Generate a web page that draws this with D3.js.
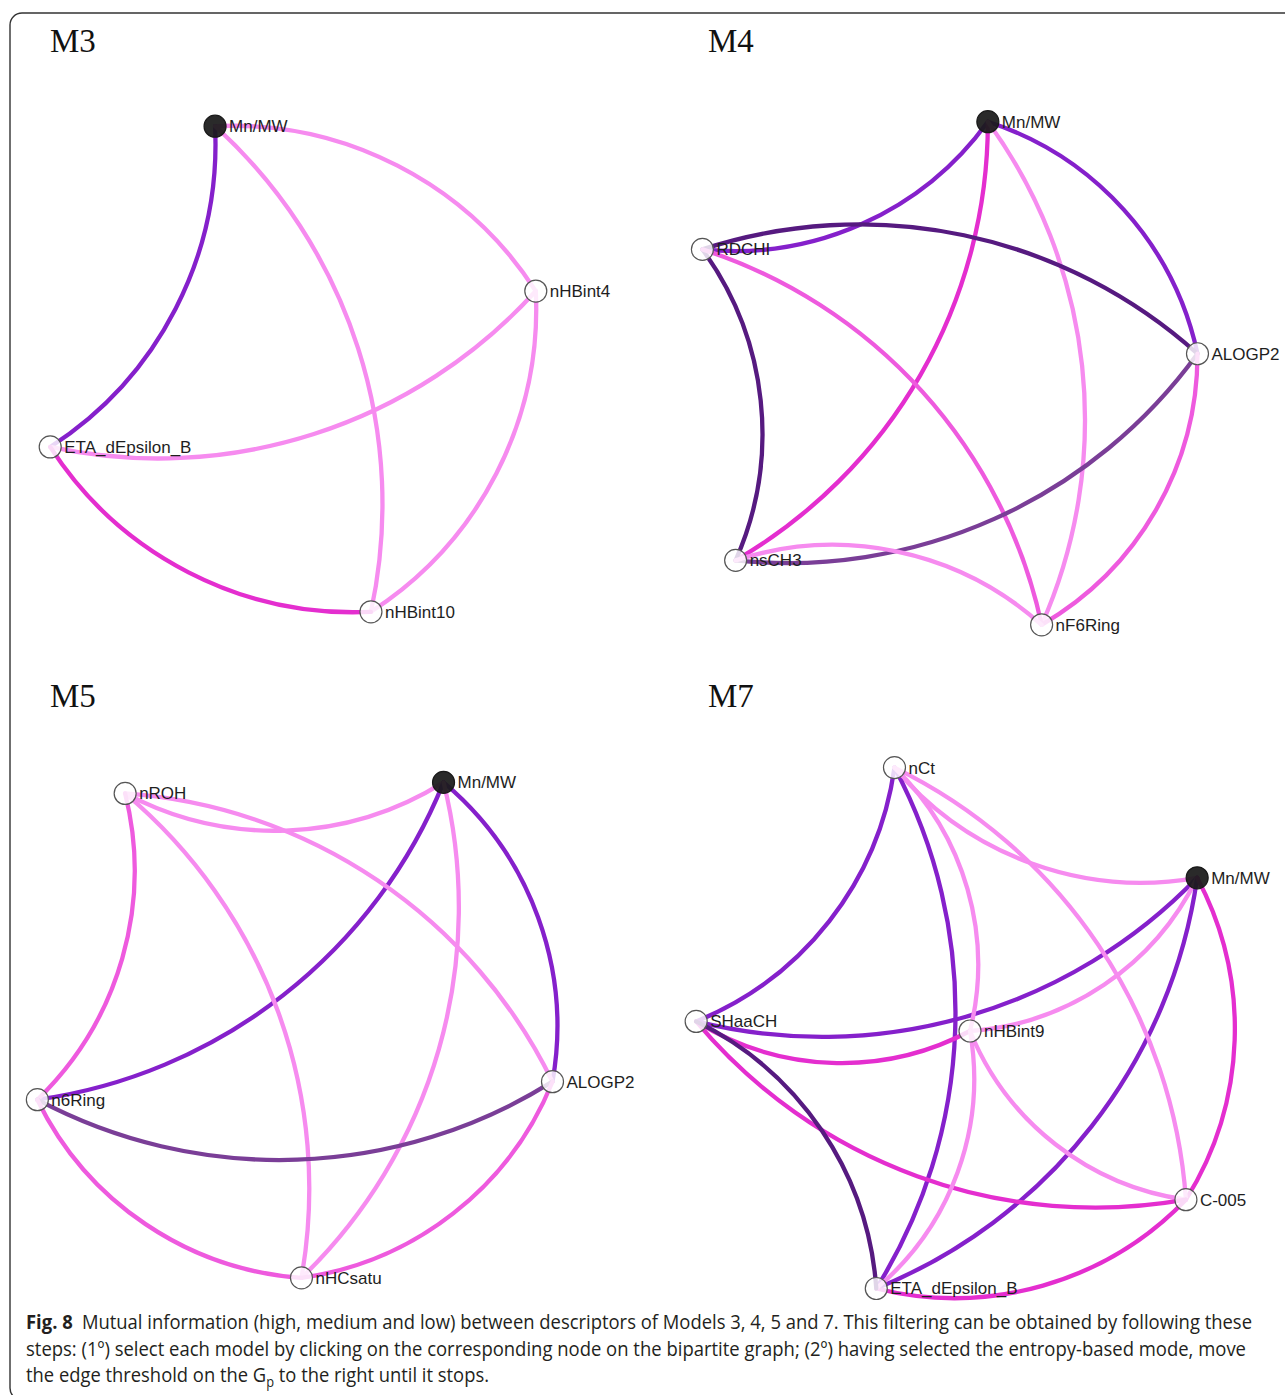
<!DOCTYPE html>
<html>
<head>
<meta charset="utf-8">
<script src="https://cdn.jsdelivr.net/npm/d3@7"></script>
<style>
  html, body { margin: 0; padding: 0; background: #fff; }
  svg { display: block; }
</style>
</head>
<body>
<svg id="fig" width="1285" height="1395"></svg>
<script>
// ---- Descriptor networks (nodes listed clockwise around each ring) ----
const m3Ring = ["Mn/MW", "nHBint4", "nHBint10", "ETA_dEpsilon_B"];
const m3Hub = [];
const m3Links = [
  ["Mn/MW", "nHBint4", 1],
  ["Mn/MW", "ETA_dEpsilon_B", 4],
  ["Mn/MW", "nHBint10", 1],
  ["nHBint4", "nHBint10", 1],
  ["nHBint4", "ETA_dEpsilon_B", 1],
  ["nHBint10", "ETA_dEpsilon_B", 3]
];

const m4Ring = ["Mn/MW", "ALOGP2", "nF6Ring", "nsCH3", "RDCHI"];
const m4Hub = [];
const m4Links = [
  ["Mn/MW", "RDCHI", 4],
  ["Mn/MW", "ALOGP2", 4],
  ["Mn/MW", "nsCH3", 3],
  ["Mn/MW", "nF6Ring", 1],
  ["RDCHI", "ALOGP2", 6],
  ["RDCHI", "nsCH3", 6],
  ["RDCHI", "nF6Ring", 2],
  ["ALOGP2", "nsCH3", 5],
  ["ALOGP2", "nF6Ring", 2],
  ["nsCH3", "nF6Ring", 1]
];

const m5Ring = ["nROH", "Mn/MW", "ALOGP2", "nHCsatu", "n6Ring"];
const m5Hub = [];
const m5Links = [
  ["Mn/MW", "nROH", 1],
  ["Mn/MW", "n6Ring", 4],
  ["Mn/MW", "ALOGP2", 4],
  ["Mn/MW", "nHCsatu", 1],
  ["nROH", "ALOGP2", 1],
  ["nROH", "nHCsatu", 1],
  ["nROH", "n6Ring", 2],
  ["ALOGP2", "n6Ring", 5],
  ["ALOGP2", "nHCsatu", 2],
  ["nHCsatu", "n6Ring", 2]
];

const m7Ring = ["nCt", "Mn/MW", "C-005", "ETA_dEpsilon_B", "SHaaCH"];
const m7Hub = ["nHBint9"];
const m7Links = [
  ["Mn/MW", "nCt", 1],
  ["Mn/MW", "SHaaCH", 4],
  ["Mn/MW", "nHBint9", 1],
  ["Mn/MW", "ETA_dEpsilon_B", 4],
  ["Mn/MW", "C-005", 3],
  ["nCt", "SHaaCH", 4],
  ["nCt", "ETA_dEpsilon_B", 4],
  ["nCt", "nHBint9", 1],
  ["nCt", "C-005", 1],
  ["C-005", "nHBint9", 1],
  ["C-005", "SHaaCH", 3],
  ["C-005", "ETA_dEpsilon_B", 3],
  ["nHBint9", "SHaaCH", 3],
  ["nHBint9", "ETA_dEpsilon_B", 1],
  ["SHaaCH", "ETA_dEpsilon_B", 6]
];

const panelTitles = ["M3", "M4", "M5", "M7"];
const selectedNode = "Mn/MW";
const miRanks = [1, 2, 3, 4, 5, 6];

const captionLines = [
  "Mutual information (high, medium and low) between descriptors of Models 3, 4, 5 and 7. This filtering can be obtained by following these",
  "steps: (1º) select each model by clicking on the corresponding node on the bipartite graph; (2º) having selected the entropy-based mode, move",
  "the edge threshold on the G"
];

// ---- Layout & styling ----
const panels = [
  { title: panelTitles[0], ring: m3Ring, hub: m3Hub, links: m3Links, cx: 293, cy: 369, r: 255, rot: -107.8, tx: 50, ty: 52 },
  { title: panelTitles[1], ring: m4Ring, hub: m4Hub, links: m4Links, cx: 933, cy: 382, r: 266, rot: -78.1, tx: 708, ty: 52 },
  { title: panelTitles[2], ring: m5Ring, hub: m5Hub, links: m5Links, cx: 292, cy: 1007, r: 271, rot: -128.0, tx: 50, ty: 707 },
  { title: panelTitles[3], ring: m7Ring, hub: m7Hub, links: m7Links, cx: 970, cy: 1031, r: 274, rot: -106.0, tx: 708, ty: 707 }
];

const edgeColour = d3.scaleOrdinal()
  .domain(miRanks)
  .range(["#f68bef", "#ee5ade", "#e42ecf", "#8520cb", "#7a3e97", "#561a80"]);

const svg = d3.select("#fig");

// outer frame
svg.append("rect")
  .attr("x", 10).attr("y", 13)
  .attr("width", 1300).attr("height", 1387)
  .attr("rx", 12).attr("ry", 12)
  .attr("fill", "none")
  .attr("stroke", "#333")
  .attr("stroke-width", 1.4);

function linkArc(s, t) {
  const dx = t.x - s.x, dy = t.y - s.y;
  const dr = Math.sqrt(dx * dx + dy * dy);
  return `M${s.x},${s.y}A${dr},${dr} 0 0,1 ${t.x},${t.y}`;
}

panels.forEach(p => {
  const g = svg.append("g");

  // ring positions: index -> angle
  const angle = d3.scaleLinear()
    .domain([0, p.ring.length])
    .range([p.rot, p.rot + 360]);
  const radial = d3.scaleLinear().domain([0, 1]).range([0, p.r]);

  const nodes = new Map();
  p.ring.forEach((name, i) => {
    const a = angle(i) * Math.PI / 180;
    nodes.set(name, { name, x: p.cx + radial(1) * Math.cos(a), y: p.cy + radial(1) * Math.sin(a) });
  });
  p.hub.forEach(name => {
    nodes.set(name, { name, x: p.cx + radial(0), y: p.cy + radial(0) });
  });

  g.append("text")
    .attr("x", p.tx).attr("y", p.ty)
    .attr("font-family", "'Liberation Serif', 'Times New Roman', serif")
    .attr("font-size", 33)
    .attr("fill", "#111")
    .text(p.title);

  g.append("g")
    .selectAll("path")
    .data(p.links)
    .join("path")
    .attr("d", d => linkArc(nodes.get(d[0]), nodes.get(d[1])))
    .attr("fill", "none")
    .attr("stroke", d => edgeColour(d[2]))
    .attr("stroke-width", 4.3)
    .attr("stroke-linecap", "round");

  const nodeList = Array.from(nodes.values());

  g.append("g")
    .selectAll("circle")
    .data(nodeList)
    .join("circle")
    .attr("cx", d => d.x)
    .attr("cy", d => d.y)
    .attr("r", 11)
    .attr("fill", d => d.name === selectedNode ? "#1a1a1a" : "#ffffff")
    .attr("fill-opacity", d => d.name === selectedNode ? 0.93 : 0.82)
    .attr("stroke", d => d.name === selectedNode ? "#1a1a1a" : "#555")
    .attr("stroke-width", 1.2);

  g.append("g")
    .selectAll("text")
    .data(nodeList)
    .join("text")
    .attr("x", d => d.x + 14)
    .attr("y", d => d.y + 6)
    .attr("font-family", "'Liberation Sans', Arial, sans-serif")
    .attr("font-size", 17)
    .attr("fill", "#1e1e1e")
    .text(d => d.name);
});

// ---- Caption ----
const cap = svg.append("g")
  .attr("font-family", "'Open Sans', 'Noto Sans', sans-serif")
  .attr("font-size", 20)
  .attr("fill", "#231f20");

const l1 = cap.append("text").attr("x", 26).attr("y", 1329)
  .attr("textLength", 1226).attr("lengthAdjust", "spacingAndGlyphs");
l1.append("tspan").attr("font-weight", "bold").text("Fig. 8");
l1.append("tspan").text("\u2002" + captionLines[0]);

cap.append("text").attr("x", 26).attr("y", 1356)
  .attr("textLength", 1220).attr("lengthAdjust", "spacingAndGlyphs")
  .text(captionLines[1]);

const l3 = cap.append("text").attr("x", 26).attr("y", 1382)
  .attr("textLength", 463).attr("lengthAdjust", "spacingAndGlyphs");
l3.append("tspan").text(captionLines[2]);
l3.append("tspan").attr("font-size", 14).attr("dy", 5).text("p");
l3.append("tspan").attr("dy", -5).text(" to the right until it stops.");
</script>
</body>
</html>
